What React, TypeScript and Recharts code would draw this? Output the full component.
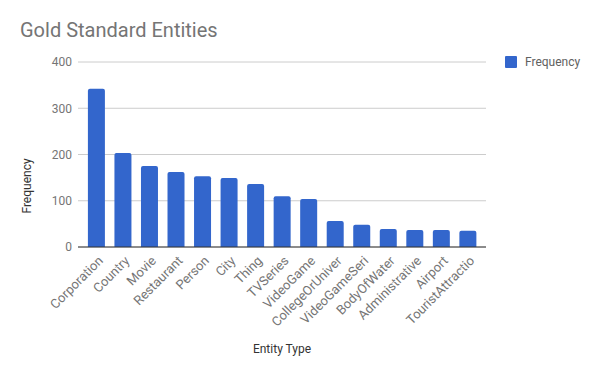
import React from 'react';
import { BarChart, Bar, XAxis, YAxis, CartesianGrid, ReferenceLine } from 'recharts';

const categories = ['Corporation', 'Country', 'Movie', 'Restaurant', 'Person', 'City', 'Thing', 'TVSeries', 'VideoGame', 'CollegeOrUniver', 'VideoGameSeri', 'BodyOfWater', 'Administrative', 'Airport', 'TouristAttractio'];
const frequency = [342, 203, 175, 162, 153, 149, 136, 110, 104, 56, 48, 39, 37, 37, 35];
const yTicks = [0, 100, 200, 300, 400];

const data = categories.map((c, i) => ({ name: c, Frequency: frequency[i] }));

const FONT = 'Roboto, "Noto Sans", sans-serif';

const XTick = (props: any) => {
  const { x, y, payload } = props;
  return (
    <g transform={`translate(${x + 4},${y + 3})`}>
      <text textAnchor="end" transform="rotate(-45)" fontSize={13} fill="#757575" fontFamily={FONT} dy={5}>
        {payload.value}
      </text>
    </g>
  );
};

export default function App() {
  return (
    <div style={{ position: 'absolute', left: 0, top: 0, width: 600, height: 371, background: '#fff', fontFamily: FONT }}>
      <div style={{ position: 'absolute', left: 20, top: 18, fontSize: 20, color: '#757575', fontFamily: FONT }}>Gold Standard Entities</div>
      <div style={{ position: 'absolute', left: 505, top: 55, display: 'flex', alignItems: 'center', fontSize: 12, color: '#616161' }}>
        <div style={{ width: 12, height: 12, background: '#3366cc', borderRadius: 1, marginRight: 8 }} />
        <span>Frequency</span>
      </div>
      <svg style={{ position: 'absolute', left: 0, top: 0 }} width={40} height={371}>
        <text x={0} y={0} transform="translate(31,186) rotate(-90)" textAnchor="middle" fontSize={12} fill="#333" fontFamily={FONT}>Frequency</text>
      </svg>
      <BarChart width={600} height={371} data={data} margin={{ top: 62, right: 114, bottom: 0, left: 0 }} barCategoryGap="18.5%">
        <CartesianGrid vertical={false} stroke="#cccccc" />
        <XAxis dataKey="name" height={124} interval={0} tick={<XTick />} tickLine={false} axisLine={false}
          padding={{ left: 5, right: 5 }}
          label={{ value: 'Entity Type', position: 'insideBottom', offset: 18, fontSize: 12, fill: '#333', fontFamily: FONT }} />
        <YAxis width={78} domain={[0, 400]} ticks={yTicks} tickLine={false} axisLine={false}
          tick={{ fontSize: 12, fill: '#757575', fontFamily: FONT }} tickMargin={0} />
        <ReferenceLine y={0} stroke="#333" strokeWidth={1} />
        <Bar dataKey="Frequency" fill="#3366cc" radius={[2, 2, 0, 0]} isAnimationActive={false} />
      </BarChart>
    </div>
  );
}
